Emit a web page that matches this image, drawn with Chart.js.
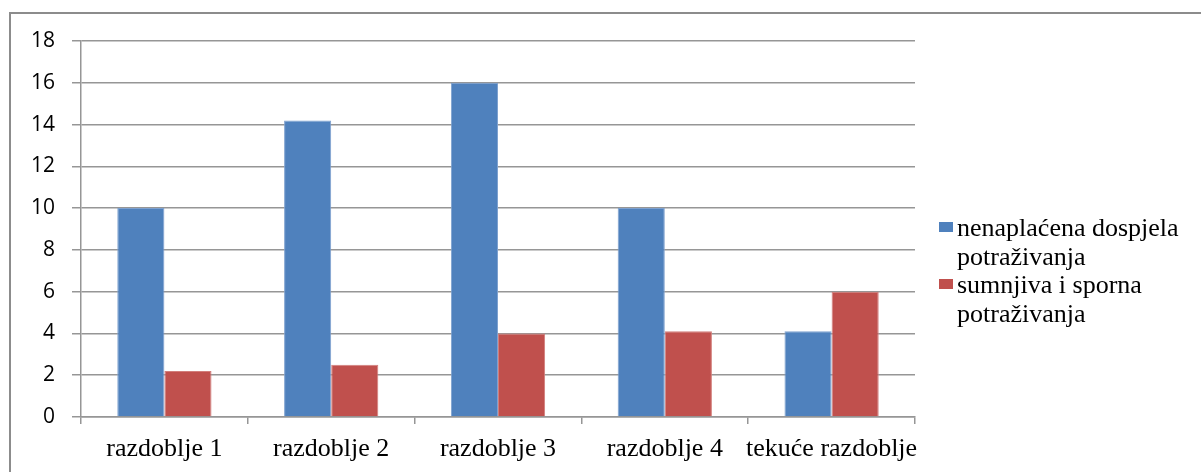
<!DOCTYPE html>
<html>
<head>
<meta charset="utf-8">
<script src="https://cdn.jsdelivr.net/npm/chart.js@4"></script>
<style>
    body { margin: 0; background: #fff; overflow: hidden; }
    #frame {
        position: absolute; left: 9px; top: 12px; width: 1400px; height: 700px;
        border-left: 2px solid #8c8c8c; border-top: 2px solid #8c8c8c;
    }
    #chartCanvas { position: absolute; left: 0; top: 0; }
    #legend {
        position: absolute; left: 939px; top: 214px; width: 262px;
        font-family: "Liberation Serif", "Times New Roman", serif;
        font-size: 26px; line-height: 28.5px; color: #000;
    }
    .legend-item { position: relative; padding-left: 18px; }
    .legend-box { position: absolute; left: 0; top: 8px; width: 14px; height: 10px; }
</style>
</head>
<body>
<div id="frame"></div>
<canvas id="chartCanvas" width="1201" height="472"></canvas>
<div id="legend"></div>
<script>
const categories = ['razdoblje 1', 'razdoblje 2', 'razdoblje 3', 'razdoblje 4', 'tekuće razdoblje'];
const unpaidDue = [10, 14.2, 16, 10, 4.1];
const disputed = [2.2, 2.5, 4, 4.1, 6];
const seriesNames = ['nenaplaćena dospjela potraživanja', 'sumnjiva i sporna potraživanja'];
const seriesColors = ['#4F81BD', '#C0504D'];
const yTicks = [0, 2, 4, 6, 8, 10, 12, 14, 16, 18];

const gridColor = '#969696';

let chart;

function initializeChart() {
    const ctx = document.getElementById('chartCanvas').getContext('2d');
    chart = new Chart(ctx, {
        type: 'bar',
        data: {
            labels: categories,
            datasets: [{
                label: seriesNames[0],
                data: unpaidDue,
                backgroundColor: seriesColors[0],
                borderColor: '#7EA1CF',
                borderWidth: 1
            }, {
                label: seriesNames[1],
                data: disputed,
                backgroundColor: seriesColors[1],
                borderColor: '#D27E7B',
                borderWidth: 1
            }]
        },
        options: {
            responsive: false,
            animation: false,
            categoryPercentage: 0.565,
            barPercentage: 1,
            layout: { padding: { left: 0, right: 286, top: 41, bottom: 0 } },
            plugins: {
                legend: { display: false },
                tooltip: { enabled: false }
            },
            scales: {
                y: {
                    min: 0,
                    max: 18,
                    afterFit: scale => { scale.width = 81; },
                    afterBuildTicks: scale => { scale.ticks = yTicks.map(v => ({ value: v })); },
                    ticks: {
                        padding: 17,
                        color: '#000',
                        font: { family: '"Open Sans", "Noto Sans", sans-serif', size: 21 }
                    },
                    grid: { color: gridColor, lineWidth: 1.5, tickLength: 9 },
                    border: { color: gridColor, width: 1.5 }
                },
                x: {
                    afterFit: scale => { scale.height = 55; },
                    ticks: {
                        padding: 10,
                        color: '#000',
                        maxRotation: 0,
                        autoSkip: false,
                        font: { family: '"Liberation Serif", "Times New Roman", serif', size: 26 }
                    },
                    grid: { offset: true, drawOnChartArea: false, color: gridColor, lineWidth: 1.5, tickLength: 7 },
                    border: { color: gridColor, width: 1.5 }
                }
            }
        }
    });
}

// legend is HTML so that the long labels can wrap like in the original
function buildLegend() {
    const legend = document.getElementById('legend');
    chart.data.datasets.forEach(ds => {
        const item = document.createElement('div');
        item.className = 'legend-item';
        item.innerHTML = '<span class="legend-box" style="background:' + ds.backgroundColor + '"></span>' + ds.label;
        legend.appendChild(item);
    });
}

initializeChart();
buildLegend();
</script>
</body>
</html>
